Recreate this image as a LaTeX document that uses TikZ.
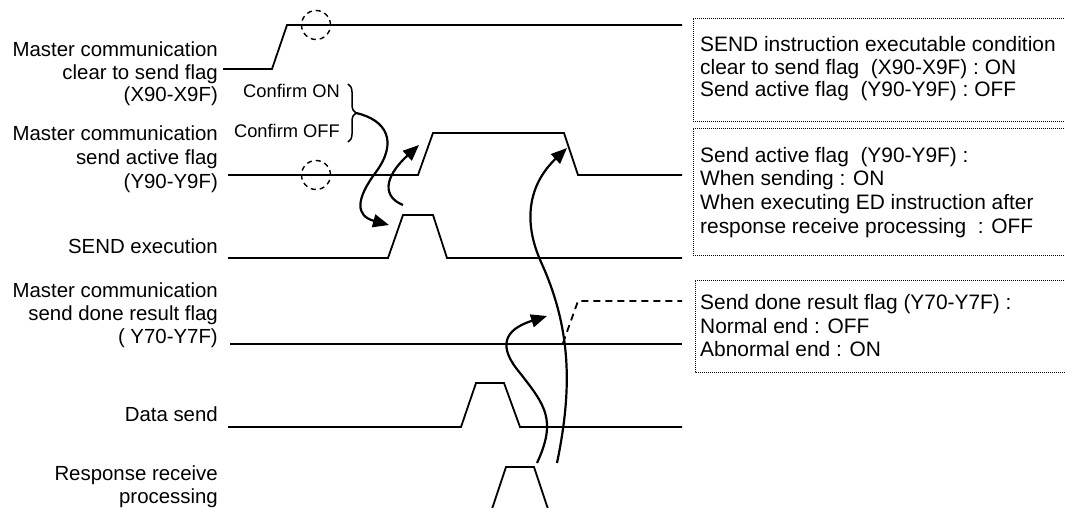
\documentclass[tikz,border=0pt]{standalone}
\usepackage{fontspec}
\setmainfont{Liberation Sans}
\usetikzlibrary{arrows.meta,decorations.pathreplacing}
\tikzset{
  sig/.style={line width=1.8pt, line join=miter},
  lbl/.style={anchor=base east, inner sep=0pt, font=\fontsize{20.4}{22}\selectfont},
  cnf/.style={anchor=base east, inner sep=0pt, font=\fontsize{18.3}{20}\selectfont},
  note/.style={anchor=base west, inner sep=0pt, font=\fontsize{20.9}{22}\selectfont},
  notebox/.style={line width=0.9pt, dash pattern=on 1pt off 1pt},
  mark circle/.style={line width=1.4pt, dash pattern=on 5pt off 4pt},
  flow/.style={line width=2.2pt, -{Triangle[length=16pt,width=13pt]}},
}
\begin{document}
\begin{tikzpicture}[x=1pt,y=-1pt]
\useasboundingbox (0,0) rectangle (1065,508);
\clip (0,0) rectangle (1065,508);

% left labels
\node[lbl] (l1a) at (218,57) {Master communication};
\node[lbl] (l1b) at (218,79.5) {clear to send flag};
\node[lbl] (l1c) at (218,102) {(X90-X9F)};
\node[lbl] (l2a) at (218,141) {Master communication};
\node[lbl] (l2b) at (218,164.5) {send active flag};
\node[lbl] (l2c) at (218,188) {(Y90-Y9F)};
\node[lbl] (l3) at (218,253) {SEND execution};
\node[lbl] (l4a) at (218,297) {Master communication};
\node[lbl] (l4b) at (218,320) {send done result flag};
\node[lbl] (l4c) at (218,343) {( Y70-Y7F)};
\node[lbl] (l5) at (218,421) {Data send};
\node[lbl] (l6a) at (218,480) {Response receive};
\node[lbl] (l6b) at (218,503) {processing};

% confirm labels and brace
\node[cnf] (con) at (340,98) {Confirm ON};
\node[cnf] (coff) at (340,138) {Confirm OFF};
\coordinate (bt) at (348,84);
\coordinate (bb) at (348,142);
\draw[line width=1.5pt, decorate, decoration={brace, amplitude=8pt}] (bt) -- (bb);
\coordinate (btip) at (356,113);

% waveforms
\draw[sig] (223,69) -- (272,69) -- (287,25) -- (682,25);
\draw[sig] (228,175) -- (418,175) -- (433,133) -- (564,133) -- (578,175) -- (682,175);
\draw[sig] (228,258) -- (388,258) -- (403,215) -- (433,215) -- (447,258) -- (682,258);
\draw[sig] (230,344) -- (682,344);
\draw[sig, dash pattern=on 7pt off 5pt] (563,343) -- (578,301) -- (682,301);
\draw[sig] (228,427) -- (461,427) -- (476,383) -- (504,383) -- (520,427) -- (682,427);
\draw[sig] (491,512) -- (506,467) -- (534,467) -- (549,512);

% dashed circles
\node[draw, circle, mark circle, minimum size=29pt, inner sep=0pt] (c1) at (316,25) {};
\node[draw, circle, mark circle, minimum size=29pt, inner sep=0pt] (c2) at (316,175) {};

% flow arrows
\coordinate (a1e) at (389,225);
\draw[flow] (btip) .. controls (387,120) and (398,142) .. (376,172) .. controls (355,200) and (356,216) .. (a1e);
\coordinate (a2s) at (403,205);
\coordinate (a2e) at (419,145);
\draw[flow] (a2s) .. controls (383,197) and (383,178) .. (a2e);
\coordinate (a3s) at (557,463);
\coordinate (a3e) at (567,148);
\draw[flow] (a3s) .. controls (572,390) and (572,330) .. (541,262) .. controls (523,222) and (528,185) .. (a3e);
\coordinate (a4s) at (537,463);
\coordinate (a4e) at (547,316);
\draw[flow] (a4s) .. controls (557,420) and (545,405) .. (520,373) .. controls (498,347) and (503,330) .. (a4e);

% note boxes
\draw[notebox] (1080,18) -- (693,18) -- (693,121) -- (1080,121);
\draw[notebox] (1080,128) -- (693,128) -- (693,255) -- (1080,255);
\draw[notebox] (1080,280) -- (695,280) -- (695,372) -- (1080,372);

\node[note] (n1a) at (700,52) {SEND instruction executable condition};
\node[note] (n1b) at (700,74.5) {clear to send flag~ (X90-X9F) : ON};
\node[note] (n1c) at (700,97) {Send active flag~ (Y90-Y9F) : OFF};
\node[note] (n2a) at (700,162) {Send active flag~ (Y90-Y9F) :};
\node[note] (n2b) at (700,185) {When sending : ON};
\node[note] (n2c) at (700,209) {When executing ED instruction after};
\node[note] (n2d) at (700,233) {response receive processing~ : OFF};
\node[note] (n3a) at (700,309) {Send done result flag (Y70-Y7F) :};
\node[note] (n3b) at (700,333) {Normal end : OFF};
\node[note] (n3c) at (700,356) {Abnormal end : ON};
\end{tikzpicture}
\end{document}
